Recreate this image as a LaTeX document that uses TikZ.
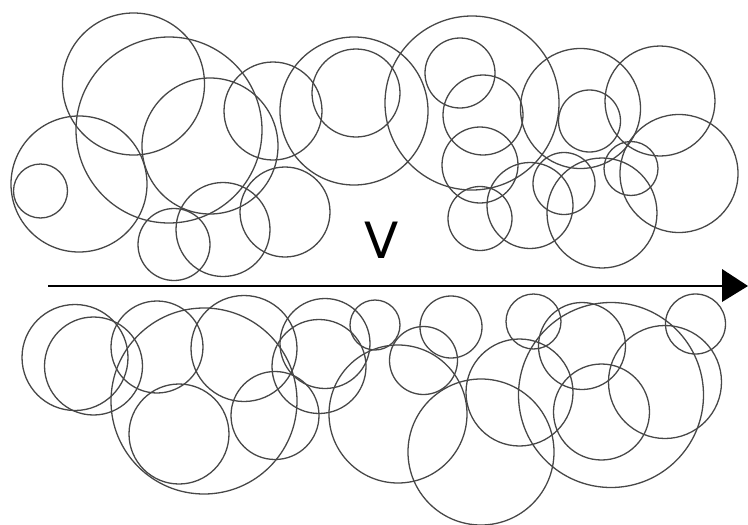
\documentclass[tikz,border=0pt]{standalone}
\usepackage{fontspec}
\setmainfont{DejaVu Sans}
\begin{document}
\begin{tikzpicture}[x=1pt,y=-1pt,
  ring/.style={draw=black!72,line width=1.3pt},
  axis/.style={draw=black,line width=1.2pt}]
\useasboundingbox (0,0) rectangle (748,525);
% upper group
\foreach \x/\y/\r in {
  133.5/84/71, 169/130/93, 210/146/68, 79/184/68, 40.5/191/27,
  174/244.5/36, 223/229.5/47, 285/212/45, 273/111/49, 354/111/74,
  356/93/44, 472/103/87, 460/73/35, 483/115/40, 480/165/38,
  480/218.5/32, 530/205.5/43, 564/183.5/31, 602/213/55, 580.5/108.5/60,
  589.5/121/31, 660/101/55, 631/168.5/27, 679/173.5/59}
  \draw[ring] (\x,\y) circle (\r pt);
% lower group
\foreach \x/\y/\r in {
  75/357.5/53, 93.5/366/49, 157/347/46, 204/401/93, 244/348.5/53,
  179/434/50, 275/415.5/44, 325/343.5/45, 319/366.5/47, 375/325/25,
  398/414/69, 423.5/360.5/34, 451/327/31, 481/452/73, 519.5/392.5/53.5,
  533.5/321.5/27.5, 611/395/92.5, 582/346/43.5, 601.5/412/48, 665/382/56.5,
  695.5/324/30}
  \draw[ring] (\x,\y) circle (\r pt);
% velocity arrow
\coordinate (s) at (48,286);
\coordinate (h) at (722,286);
\draw[axis] (s) -- (h);
\fill[black] (722,269) -- (748,286) -- (722,302) -- cycle;
\node (vlabel) at (382,240) {\fontsize{50}{50}\selectfont V};
\end{tikzpicture}
\end{document}
